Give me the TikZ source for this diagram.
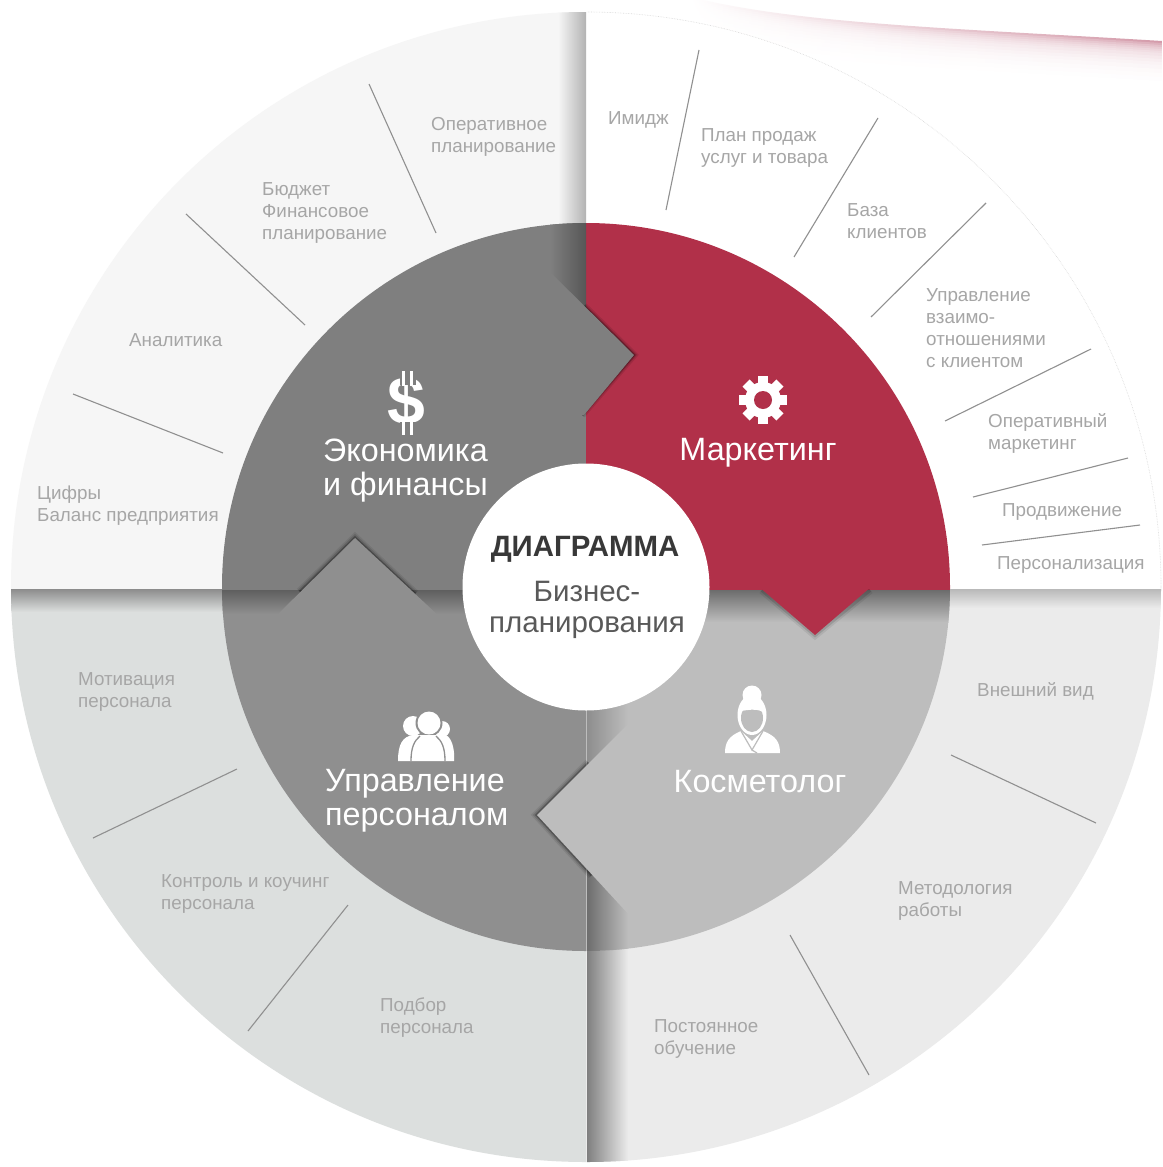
\documentclass[tikz,border=0pt]{standalone}
\usepackage{fontspec}
\setmainfont{Liberation Sans}
\begin{document}
\begin{tikzpicture}[x=1pt,y=-1pt,
  smalltext/.style={text=txtgrey,font=\fontsize{18.8}{22}\selectfont,anchor=west,align=left,inner sep=0pt,yshift=-2pt},
  bigtext/.style={text=white,font=\fontsize{32.3}{34.5}\selectfont,align=left,inner sep=0pt,yshift=-2.5pt},
  ticklinE/.style={draw=tickgrey,line width=1.1pt},
  shadowline/.style={line join=miter,draw=black}
]
\definecolor{txtgrey}{HTML}{A6A6A6}
\definecolor{tickgrey}{HTML}{909090}
\definecolor{outA}{HTML}{F6F6F6}
\definecolor{outC}{HTML}{DCDFDE}
\definecolor{outD}{HTML}{EBEBEB}
\definecolor{inA}{HTML}{7F7F7F}
\definecolor{inB}{HTML}{B13049}
\definecolor{inC}{HTML}{8F8F8F}
\definecolor{inD}{HTML}{BDBDBD}
\definecolor{swoosh}{HTML}{CF8FA0}
\useasboundingbox (0,0) rectangle (1162,1167);
\fill[white] (0,0) rectangle (1162,1167);
% swoosh: nested bands, each lighter than the one before
\foreach \i/\o in {0/90,2/72,4/58,6/47,8/38,10/31,12/25,15/20,18/15,21/11,24/8,28/5,32/3,36/1.5,40/0}{
  \shade[left color=white,right color=swoosh!\o!white]
    (690,\i-3) .. controls (800,\i+24) and (950,\i+28) .. (1162,\i+41)
    -- (1162,95) -- (690,95) -- cycle;
}
\fill[white] (680,90) rectangle (1170,100);
% outer quadrants
\begin{scope}
\clip (586,587) circle (575);
\fill[outA] (0,0) rectangle (586,589);
\fill[white] (586,0) rectangle (1170,589);
\fill[outC] (0,589) rectangle (586,1170);
\fill[outD] (586,589) rectangle (1170,1170);
\shade[left color=outA,right color=gray!60] (558,0) rectangle (586,589);
\shade[left color=gray!100,middle color=outD!80!black,right color=outD] (587,589) rectangle (628,1170);
\shade[top color=gray!90,bottom color=outC] (0,589) rectangle (587,612);
\shade[top color=gray!55,bottom color=outD] (628,589) rectangle (1170,608);
\end{scope}
\begin{scope}
\clip (587,0) rectangle (1170,589);
\draw[gray!30,line width=.6pt,densely dotted] (586,587) circle (575);
\end{scope}
% inner disc
\begin{scope}
\clip (586,587) circle (364);
\fill[inA] (200,200) rectangle (586,590);
\fill[inB] (586,200) rectangle (970,590);
\fill[inC] (200,590) rectangle (586,970);
\fill[inD] (586,590) rectangle (970,970);
\shade[left color=inA,right color=inA!68!black] (550,220) rectangle (586,320);
\shade[top color=inA!75!black,bottom color=inC] (200,590) rectangle (586,614);
\shade[top color=gray!85!black,bottom color=inD] (586,590) rectangle (970,622);
\shade[left color=inD!75!black,right color=inD] (587,700) rectangle (628,790);
\shade[left color=inD!58!black,right color=inD] (587,860) rectangle (628,970);
% arrow: BR into BL
\foreach \w/\o in {9/.08,6/.13,3/.25}{\draw[shadowline,line width=\w pt,opacity=\o] (589,763) -- (537,815) -- (592,875);}
\fill[inD] (632,720) -- (537,815) -- (632,918) -- cycle;
% arrow: BL into TL
\foreach \w/\o in {9/.08,6/.13,3/.28}{\draw[shadowline,line width=\w pt,opacity=\o] (300,592) -- (355,538) -- (415,594);}
\fill[inC] (274,618) -- (355,538) -- (441,618) -- cycle;
% arrow: TR into BR
\foreach \w/\o in {8/.07,4/.12}{\draw[shadowline,line width=\w pt,opacity=\o] (762,590) -- (815,635) -- (870,590);}
\fill[inB] (758,586) -- (815,635) -- (872,586) -- cycle;
% arrow: TL into TR
\foreach \w/\o in {7/.10,4/.18,2/.28}{\draw[shadowline,line width=\w pt,opacity=\o] (584,306) -- (634,355) -- (582,415);}
\fill[inA] (549,271) -- (634,355) -- (584,415) -- (549,415) -- cycle;
\end{scope}
% centre
\fill[white] (586,587) circle (123.5);
% ticks
\draw[ticklinE] (369,84) -- (436,233);
\draw[ticklinE] (186,214) -- (305,325);
\draw[ticklinE] (73,394) -- (223,453);
\draw[ticklinE] (699,50) -- (666,210);
\draw[ticklinE] (878,118) -- (794,257);
\draw[ticklinE] (986,203) -- (871,317);
\draw[ticklinE] (1091,349) -- (945,421);
\draw[ticklinE] (1128,458) -- (973,497);
\draw[ticklinE] (1140,525) -- (982,545);
\draw[ticklinE] (951,755) -- (1096,823);
\draw[ticklinE] (790,935) -- (869,1075);
\draw[ticklinE] (237,769) -- (93,838);
\draw[ticklinE] (348,905) -- (248,1031);
% small labels
\node[smalltext] (t1) at (431,135) {Оперативное\\планирование};
\node[smalltext] (t2) at (262,211) {Бюджет\\Финансовое\\планирование};
\node[smalltext] (t3) at (129,338) {Аналитика};
\node[smalltext] (t4) at (37,504) {Цифры\\Баланс предприятия};
\node[smalltext] (t5) at (608,118) {Имидж};
\node[smalltext] (t6) at (701,146) {План продаж\\услуг и товара};
\node[smalltext] (t7) at (847,219) {База\\клиентов};
\node[smalltext] (t8) at (926,326) {Управление\\взаимо-\\отношениями\\с клиентом};
\node[smalltext] (t9) at (988,431) {Оперативный\\маркетинг};
\node[smalltext] (t10) at (1002,510) {Продвижение};
\node[smalltext] (t11) at (997,563) {Персонализация};
\node[smalltext] (t12) at (977,689) {Внешний вид};
\node[smalltext] (t13) at (898,899) {Методология\\работы};
\node[smalltext] (t14) at (654,1037) {Постоянное\\обучение};
\node[smalltext] (t15) at (380,1016) {Подбор\\персонала};
\node[smalltext] (t16) at (161,892) {Контроль и коучинг\\персонала};
\node[smalltext] (t17) at (78,690) {Мотивация\\персонала};
% big labels
\node[bigtext,anchor=west] (b1) at (323,468) {Экономика\\и финансы};
\node[bigtext,anchor=center] (b2) at (758,450) {Маркетинг};
\node[bigtext,anchor=west] (b3) at (325,798) {Управление\\персоналом};
\node[bigtext,anchor=center] (b4) at (760,779) {Косметолог};
% centre text
\node[inner sep=0pt,text=black!78,font=\fontsize{29.4}{30}\selectfont\bfseries] (c1) at (585,549) {ДИАГРАММА};
\node[inner sep=0pt,text=black!65,align=center,font=\fontsize{29.5}{31}\selectfont] (c2) at (587,610) {Бизнес-\\планирования};
% dollar
\node[inner sep=0pt,text=white,font=\fontsize{68}{68}\selectfont\bfseries] (d) at (406.5,402) {\$};
\fill[inA] (400,366) rectangle (416,385);
\fill[inA] (400,422) rectangle (416,440);
\fill[white] (401.5,371) rectangle (405,386);
\fill[white] (409.5,371) rectangle (413,386);
\fill[white] (401.5,421) rectangle (405,435);
\fill[white] (409.5,421) rectangle (413,435);
% gear
\foreach \a in {0,45,...,315}{
  \fill[white,rotate around={\a:(763,400)}] (758,376) rectangle (768,385);
}
\fill[white] (763,400) circle (18);
\fill[inB] (763,400) circle (9);
% people
\fill[white] (413,726) circle (10);
\fill[white] (442,729) circle (8);
\fill[inC] (429,723) circle (13.5);
\fill[white] (429,723) circle (11.5);
\fill[white] (398,761) .. controls (398,745) and (402,736) .. (414,735) -- (446,735) .. controls (452,738) and (455,750) .. (454,761) -- cycle;
\draw[inC,line width=1.3pt] (411,761) .. controls (411,748) and (414,741) .. (420,736);
\draw[inC,line width=1.3pt] (445,761) .. controls (445,748) and (442,741) .. (436,736);
% woman
\fill[white] (752,695) circle (9.5);
\fill[white] (752,715) ellipse (14.5 and 20);
\fill[inD] (752,718) ellipse (11 and 14);
\fill[white] (741,711) .. controls (748,710) and (756,708) .. (763,712) .. controls (762,700) and (742,700) .. (741,711) -- cycle;
\fill[white] (725,753) .. controls (725,742) and (729,736) .. (741,731) -- (752,741) -- (763,731) .. controls (776,736) and (780,742) .. (780,753) -- cycle;
\draw[inD,line width=1.2pt] (741,731) -- (752,750) -- (763,731);
\draw[inD,line width=1.2pt] (752,750) -- (757,753);
\end{tikzpicture}
\end{document}
